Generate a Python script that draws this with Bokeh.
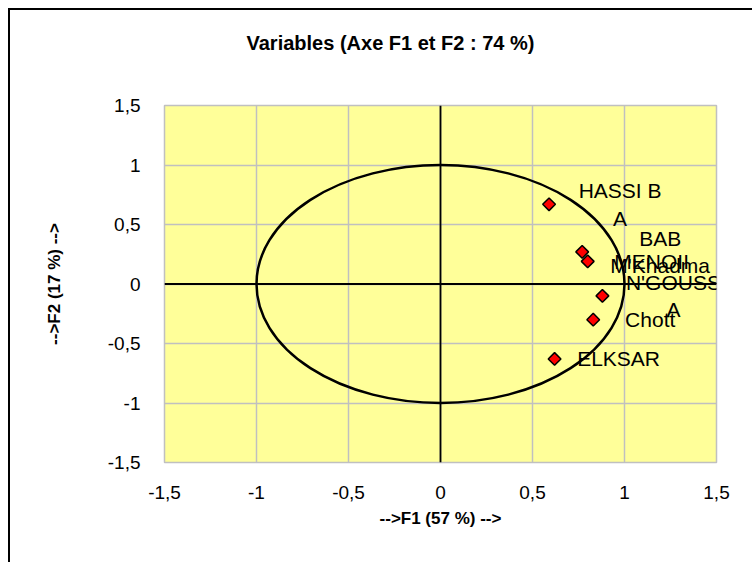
import numpy as np
from bokeh.plotting import figure
from bokeh.models import Span, FixedTicker, CustomJSTickFormatter, Range1d, ColumnDataSource, Title
from bokeh.core.properties import value
from bokeh.embed import file_html
from bokeh.resources import INLINE

# ---- data ----
title_text = "Variables (Axe F1 et F2 : 74 %)"
x_title = "-->F1 (57 %) -->"
y_title = "-->F2 (17 %) -->"
ticks = [-1.5, -1, -0.5, 0, 0.5, 1, 1.5]
names = ["HASSI B\nA", "BAB\nM'Khadma", "MENOII", "N'GOUSS\nA", "Chott", "ELKSAR"]
f1 = [0.59, 0.77, 0.80, 0.88, 0.83, 0.62]
f2 = [0.67, 0.27, 0.19, -0.10, -0.30, -0.63]

FONT = "Liberation Sans"
GRID = "#C0C0C0"

p = figure(width=744, height=554,
           x_range=Range1d(-1.5, 1.5), y_range=Range1d(-1.5, 1.5),
           output_backend="svg", toolbar_location=None,
           min_border_left=154, min_border_right=38,
           min_border_top=95, min_border_bottom=102)
p.title = None
p.styles = {"margin-left": "8px", "margin-top": "8px",
            "border-left": "2px solid black", "border-top": "2px solid black"}

p.background_fill_color = "#FFFF99"
p.border_fill_color = "white"
p.outline_line_color = GRID
p.outline_line_width = 1.5

for g in (p.xgrid, p.ygrid):
    g.ticker = FixedTicker(ticks=ticks)
    g.grid_line_color = GRID
    g.grid_line_width = 1.5

fmt = CustomJSTickFormatter(code="return tick.toString().replace('.', ',');")
for ax in (p.xaxis, p.yaxis):
    ax.ticker = FixedTicker(ticks=ticks)
    ax.formatter = fmt
    ax.axis_line_color = None
    ax.major_tick_line_color = None
    ax.minor_tick_line_color = None
    ax.major_label_text_font = FONT
    ax.major_label_text_font_size = "19px"
    ax.major_label_text_color = "black"
    ax.axis_label_text_font = FONT
    ax.axis_label_text_font_style = "bold"
    ax.axis_label_text_font_size = "17px"
    ax.axis_label_text_color = "black"

p.xaxis.axis_label = x_title
p.yaxis.axis_label = y_title
p.xaxis.major_label_standoff = 17
p.xaxis.axis_label_standoff = 7
p.yaxis.major_label_standoff = 18
p.yaxis.axis_label_standoff = 41
p.yaxis.major_label_orientation = "horizontal"

# spacer between frame and title, then the title itself (further out)
p.add_layout(Title(text=" ", text_font_size="1px", standoff=44), "above")
p.add_layout(Title(text=title_text, align="left", offset=82, standoff=10,
                   text_font=FONT, text_font_size="20px",
                   text_font_style="bold", text_color="black"), "above")

# axes through origin
p.add_layout(Span(location=0, dimension="width", line_color="black", line_width=1.8))
p.add_layout(Span(location=0, dimension="height", line_color="black", line_width=1.8))

# correlation circle (unit radius)
p.ellipse(x=[0], y=[0], width=[2], height=[2], fill_color=None,
          line_color="black", line_width=2.5)

# label offsets: to the right of each point, centred on the text block
xo = [22 + 7 * max(len(s) for s in n.split("\n")) for n in names]
src = ColumnDataSource(dict(x=f1, y=f2, name=names, xo=xo))

p.scatter("x", "y", source=src, marker="square", angle=np.pi / 4, size=9,
          fill_color="red", line_color="black", line_width=1.5)
p.text("x", "y", text="name", source=src, x_offset="xo",
       text_align="center", text_baseline="middle",
       text_font=value(FONT), text_font_size="21px", text_color="black",
       text_line_height=1.2)

open("out.html", "w").write(file_html(p, INLINE))
